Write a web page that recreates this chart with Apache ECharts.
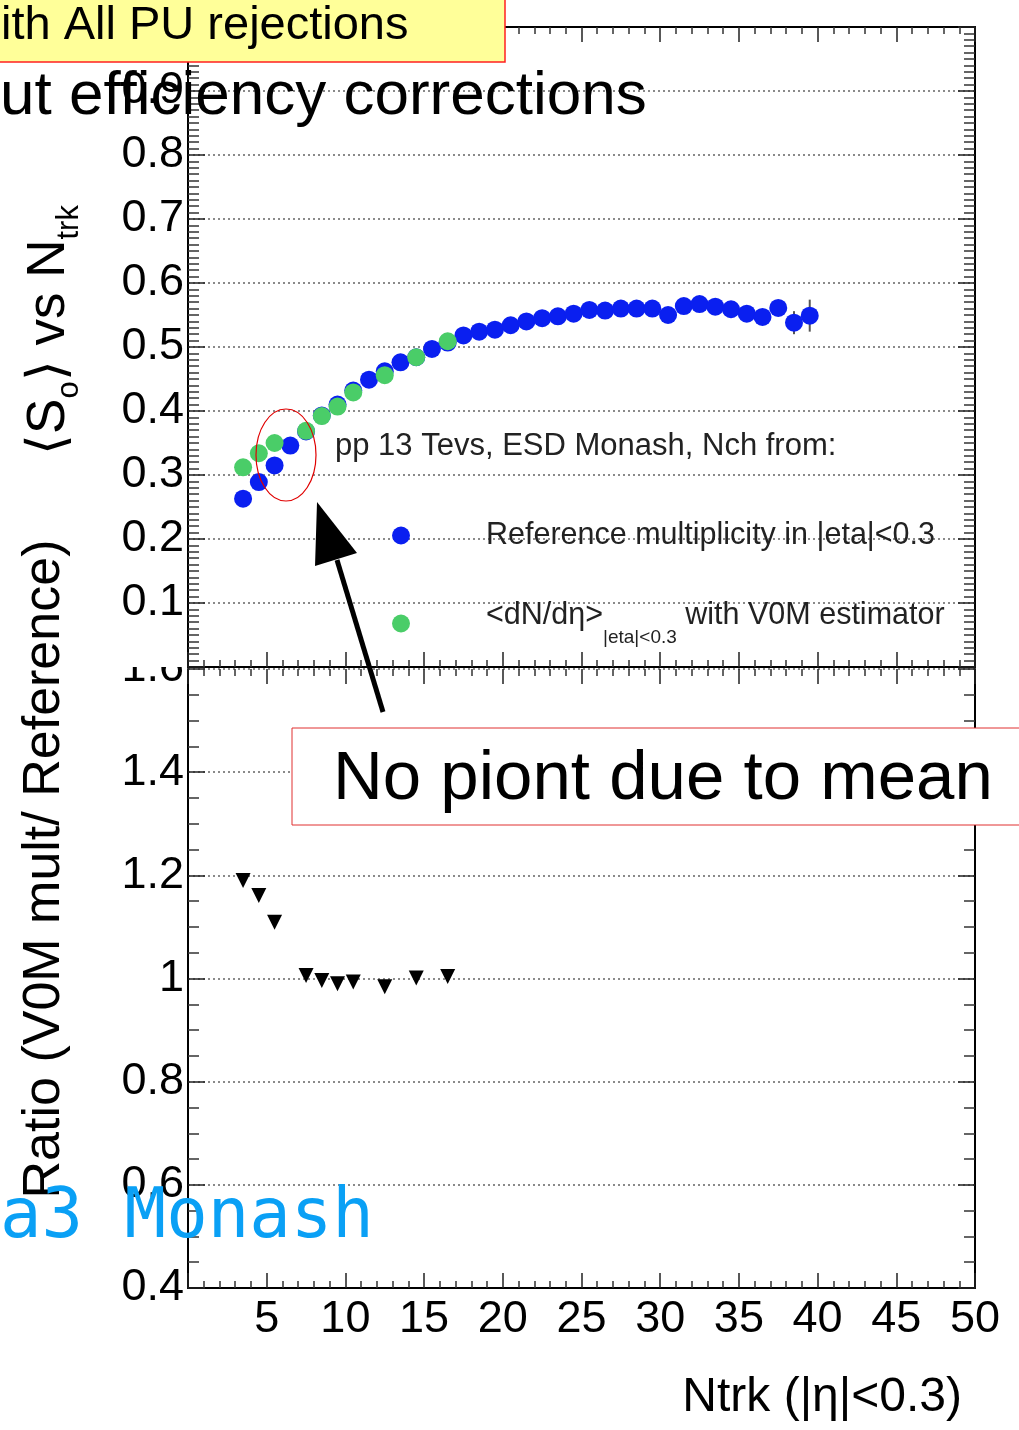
<!DOCTYPE html>
<html><head><meta charset="utf-8">
<script src="https://cdn.jsdelivr.net/npm/echarts@6/dist/echarts.min.js"></script>
<style>html,body{margin:0;padding:0;background:#fff}#c{width:1019px;height:1430px}</style>
</head><body><div id="c"></div>
<script>
// ---- data ----
const refX = [3.5,4.5,5.5,6.5,7.5,8.5,9.5,10.5,11.5,12.5,13.5,14.5,15.5,16.5,17.5,18.5,19.5,20.5,21.5,22.5,23.5,24.5,25.5,26.5,27.5,28.5,29.5,30.5,31.5,32.5,33.5,34.5,35.5,36.5,37.5,38.5,39.5];
const refY = [0.263,0.289,0.315,0.346,0.368,0.393,0.410,0.432,0.449,0.462,0.476,0.484,0.497,0.507,0.518,0.524,0.527,0.534,0.540,0.545,0.548,0.552,0.558,0.557,0.560,0.560,0.560,0.550,0.564,0.567,0.563,0.559,0.552,0.547,0.561,0.538,0.549];
const refErr = [0.002,0.002,0.002,0.002,0.002,0.002,0.002,0.002,0.002,0.002,0.002,0.002,0.003,0.003,0.003,0.003,0.003,0.003,0.003,0.004,0.004,0.004,0.004,0.005,0.005,0.005,0.006,0.006,0.006,0.007,0.007,0.008,0.008,0.009,0.010,0.018,0.025];
const v0mX = [3.5,4.5,5.5,7.5,8.5,9.5,10.5,12.5,14.5,16.5];
const v0mY = [0.312,0.334,0.350,0.369,0.392,0.407,0.429,0.456,0.484,0.509];
const ratioY = [1.190,1.161,1.109,1.006,0.996,0.990,0.993,0.984,1.001,1.004];

const xRange = [0, 50, 5];          // min, max, major step
const topYRange = [0, 1, 0.1];
const botYRange = [0.4, 1.6, 0.2];

const refName = 'Reference multiplicity in |eta|<0.3';
const v0mName = '<dN/dη>';
const FONT = '"Liberation Sans", Arial, Helvetica, sans-serif';
const BLUE = '#0a1ff0', GREEN = '#4acd68';

const chart = echarts.init(document.getElementById('c'), null, {renderer: 'canvas'});

const grid = [
  {left: 188, top: 27, width: 787, height: 640},
  {left: 188, top: 669, width: 787, height: 619}
];
const dotted = {show: true, lineStyle: {color: '#8a8a8a', width: 2, type: [2, 3]}};
function xAx(gi, pos, labels, lineShow) {
  return {
    type: 'value', gridIndex: gi, position: pos, min: xRange[0], max: xRange[1], interval: xRange[2],
    axisLine: {show: lineShow, onZero: false, lineStyle: {color: '#000', width: 2}},
    axisTick: {show: true, inside: true, length: 15, lineStyle: {color: '#222', width: 1.5}},
    minorTick: {show: true, splitNumber: 5, length: 7, lineStyle: {color: '#333', width: 1.5}},
    axisLabel: labels ? {show: true, fontSize: 45, fontFamily: FONT, color: '#000', margin: 9,
      formatter: v => v === 0 ? '' : String(v)} : {show: false},
    splitLine: {show: false}
  };
}
function yAx(gi, pos, r, minorN, labels, fmt) {
  return {
    type: 'value', gridIndex: gi, position: pos, min: r[0], max: r[1], interval: r[2],
    axisLine: {show: true, onZero: false, lineStyle: {color: '#000', width: 2}},
    axisTick: {show: true, inside: true, length: 17, lineStyle: {color: '#222', width: 1.5}},
    minorTick: {show: true, splitNumber: minorN, length: 11, lineStyle: {color: '#333', width: 1.5}},
    axisLabel: labels ? {show: true, fontSize: 45, fontFamily: FONT, color: '#000', margin: 4, formatter: fmt} : {show: false},
    splitLine: labels ? dotted : {show: false}
  };
}

const option = {
  animation: false,
  backgroundColor: '#fff',
  grid: grid,
  xAxis: [
    xAx(0, 'bottom', false, true),
    xAx(0, 'top', false, true),
    xAx(1, 'bottom', true, true),
    xAx(1, 'top', false, false)
  ],
  yAxis: [
    yAx(0, 'left', topYRange, 10, true, v => v === 0 ? '' : String(+v.toFixed(1))),
    yAx(0, 'right', topYRange, 10, false),
    yAx(1, 'left', botYRange, 4, true, v => String(+v.toFixed(1))),
    yAx(1, 'right', botYRange, 4, false)
  ],
  legend: [
    {
      data: [refName], orient: 'vertical', left: 392, top: 520, padding: 0,
      itemWidth: 18, itemHeight: 18, icon: 'circle', selectedMode: false,
      itemStyle: {opacity: 1},
      textStyle: {fontSize: 30.5, fontFamily: FONT, color: '#222', padding: [0, 0, 0, 71]}
    },
    {
      data: [v0mName], orient: 'vertical', left: 392, top: 600, padding: 0,
      itemWidth: 18, itemHeight: 18, icon: 'circle', selectedMode: false,
      itemStyle: {opacity: 1},
      formatter: n => '{m|' + n + '}{s||eta|<0.3}{m| with V0M estimator}',
      textStyle: {fontSize: 30.5, fontFamily: FONT, color: '#222', padding: [0, 0, 16, 71],
        rich: {
          m: {fontSize: 30.5, fontFamily: FONT, color: '#222', lineHeight: 64, verticalAlign: 'middle'},
          s: {fontSize: 19, fontFamily: FONT, color: '#222', lineHeight: 22, verticalAlign: 'bottom'}
        }}
    }
  ],
  series: [
    {
      type: 'custom', name: 'err', xAxisIndex: 0, yAxisIndex: 0, z: 1,
      data: refX.map((x, i) => [x, refY[i], refErr[i]]),
      renderItem: (params, api) => {
        const x = api.value(0), y = api.value(1), e = api.value(2);
        const lo = api.coord([x, y - e]), hi = api.coord([x, y + e]);
        return {type: 'line', shape: {x1: lo[0], y1: lo[1], x2: hi[0], y2: hi[1]},
          style: {stroke: '#555', lineWidth: 2}};
      }
    },
    {
      type: 'scatter', name: refName, xAxisIndex: 0, yAxisIndex: 0, z: 3,
      symbol: 'circle', symbolSize: 18, itemStyle: {color: BLUE, opacity: 1},
      data: refX.map((x, i) => [x, refY[i]])
    },
    {
      type: 'scatter', name: v0mName, xAxisIndex: 0, yAxisIndex: 0, z: 4,
      symbol: 'circle', symbolSize: 18, itemStyle: {color: GREEN, opacity: 1},
      data: v0mX.map((x, i) => [x, v0mY[i]])
    },
    {
      type: 'scatter', name: 'ratio', xAxisIndex: 2, yAxisIndex: 2, z: 3,
      symbol: 'triangle', symbolRotate: 180, symbolSize: 15, itemStyle: {color: '#000', opacity: 1},
      data: v0mX.map((x, i) => [x, ratioY[i]])
    }
  ],
  graphic: [
    // cover the upper half of the bottom pad's top label (hidden by the upper pad)
    {type: 'rect', z: 50, shape: {x: 100, y: 640, width: 86, height: 27}, style: {fill: '#fff'}},
    {type: 'text', z: 60, x: 335, y: 446, style: {text: 'pp 13 Tevs, ESD Monash, Nch from:', font: '31px ' + FONT, fill: '#222', verticalAlign: 'middle'}},
    {type: 'text', z: 60, x: 49, y: 330, rotation: Math.PI / 2,
      style: {text: '{m|⟨S}{s|o}{m|⟩ vs N}{s|trk}', align: 'center', verticalAlign: 'middle',
        rich: {
          m: {fontSize: 53, fontFamily: FONT, fill: '#000', lineHeight: 72, verticalAlign: 'middle'},
          s: {fontSize: 31, fontFamily: FONT, fill: '#000', lineHeight: 22, verticalAlign: 'bottom'}
        }}},
    {type: 'text', z: 60, x: 45, y: 869, rotation: Math.PI / 2,
      style: {text: 'Ratio (V0M mult/ Reference)', font: '52px ' + FONT, fill: '#000', align: 'center', verticalAlign: 'middle'}},
    {type: 'text', z: 60, x: 962, y: 1398, style: {text: 'Ntrk (|η|<0.3)', font: '48px ' + FONT, fill: '#000', align: 'right', verticalAlign: 'middle'}},
    // annotations
    {type: 'ellipse', z: 70, shape: {cx: 286, cy: 455, rx: 30, ry: 46}, style: {fill: 'none', stroke: '#e00000', lineWidth: 1.2}},
    {type: 'line', z: 70, shape: {x1: 383, y1: 712, x2: 337, y2: 560}, style: {stroke: '#000', lineWidth: 5}},
    {type: 'polygon', z: 70, shape: {points: [[317, 502], [357, 553], [315, 566]]}, style: {fill: '#000'}},
    {type: 'rect', z: 70, shape: {x: 292, y: 728, width: 740, height: 97}, style: {fill: '#fff', stroke: '#e03030', lineWidth: 1}},
    {type: 'text', z: 71, x: 333, y: 780, style: {text: 'No piont due to mean', font: '69px ' + FONT, fill: '#000', verticalAlign: 'middle'}},
    {type: 'rect', z: 70, shape: {x: -3, y: -3, width: 508, height: 65}, style: {fill: '#ffff99', stroke: '#ff2020', lineWidth: 1.5}},
    {type: 'text', z: 71, x: 1, y: 26, style: {text: 'ith All PU rejections', font: '47px ' + FONT, fill: '#000', verticalAlign: 'middle'}},
    {type: 'text', z: 71, x: 0, y: 97, style: {text: 'ut efficiency corrections', font: '62px ' + FONT, fill: '#000', verticalAlign: 'middle'}},
    {type: 'text', z: 71, x: 0, y: 1219, style: {text: 'a3 Monash', font: '69px "DejaVu Sans Mono", monospace', fill: '#0aa0f5', verticalAlign: 'middle'}}
  ]
};
chart.setOption(option);
</script>
</body></html>
